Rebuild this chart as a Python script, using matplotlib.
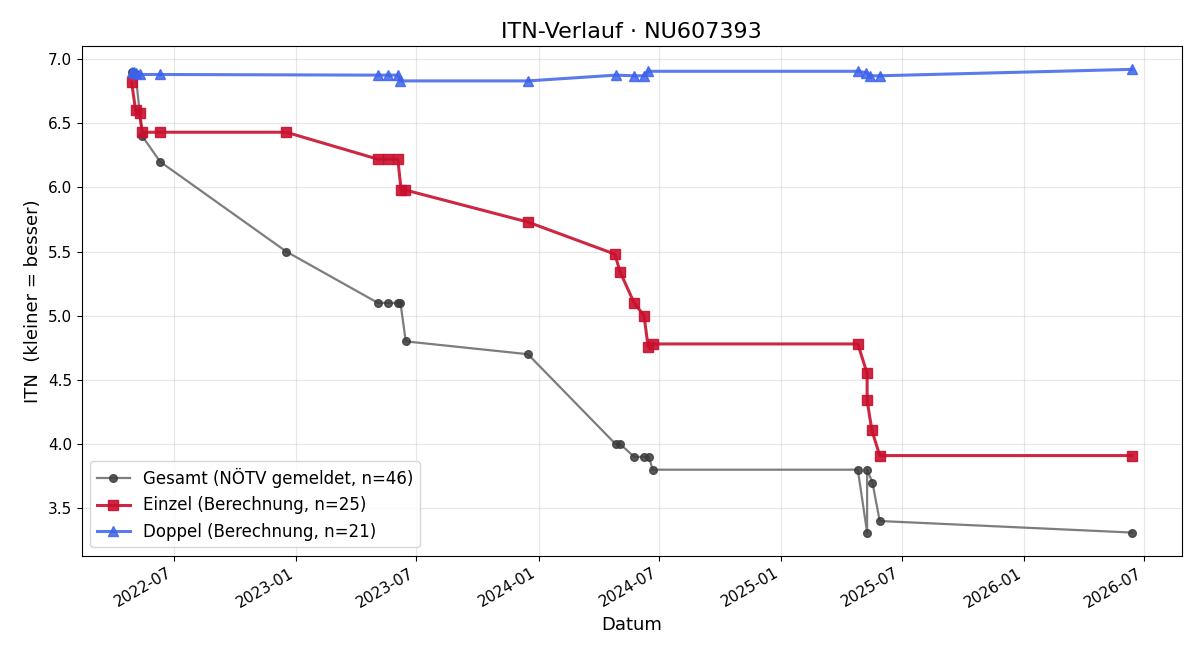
import matplotlib
matplotlib.use("Agg")
import matplotlib.pyplot as plt
import matplotlib.dates as mdates
import pandas as pd

# Gesamt (NÖTV gemeldet)
gesamt_dates = ["2022-04-28", "2022-05-01", "2022-05-04", "2022-05-14",
                "2022-06-10", "2022-12-17", "2023-05-04", "2023-05-19", "2023-06-03",
                "2023-06-07", "2023-06-15", "2023-12-16", "2024-04-26", "2024-05-03",
                "2024-05-24", "2024-06-08", "2024-06-15", "2024-06-21", "2025-04-26",
                "2025-05-10", "2025-05-10", "2025-05-18", "2025-05-29", "2026-06-13"]
gesamt_itn = [6.90, 6.89, 6.88, 6.40,
              6.20, 5.50, 5.10, 5.10, 5.10,
              5.10, 4.80, 4.70, 4.00, 4.00,
              3.90, 3.90, 3.90, 3.80, 3.80,
              3.31, 3.80, 3.70, 3.40, 3.31]

# Einzel (Berechnung)
einzel_dates = ["2022-04-28", "2022-05-04", "2022-05-10", "2022-05-14", "2022-06-10",
                "2022-12-17", "2023-05-04", "2023-05-19", "2023-06-03", "2023-06-08",
                "2023-06-14", "2023-12-16", "2024-04-25", "2024-05-03", "2024-05-24",
                "2024-06-08", "2024-06-14", "2024-06-21", "2025-04-26", "2025-05-10",
                "2025-05-10", "2025-05-17", "2025-05-29", "2026-06-13"]
einzel_itn = [6.82, 6.60, 6.58, 6.43, 6.43,
              6.43, 6.22, 6.22, 6.22, 5.98,
              5.98, 5.73, 5.48, 5.34, 5.10,
              5.00, 4.76, 4.78, 4.78, 4.55,
              4.34, 4.11, 3.91, 3.91]

# Doppel (Berechnung)
doppel_dates = ["2022-04-28", "2022-05-01", "2022-05-04", "2022-05-10", "2022-06-10",
                "2023-05-04", "2023-05-19", "2023-06-03", "2023-06-07", "2023-12-16",
                "2024-04-26", "2024-05-24", "2024-06-08", "2024-06-14", "2025-04-26",
                "2025-05-08", "2025-05-15", "2025-05-29", "2026-06-13"]
doppel_itn = [6.90, 6.90, 6.89, 6.88, 6.88,
              6.875, 6.875, 6.875, 6.83, 6.83,
              6.875, 6.87, 6.87, 6.905, 6.905,
              6.895, 6.87, 6.87, 6.92]

fig, ax = plt.subplots(figsize=(12, 6.6), dpi=100)

ax.plot(pd.to_datetime(gesamt_dates), gesamt_itn, color="#666666", marker="o",
        markersize=5.5, markerfacecolor="#3c3c3c", markeredgecolor="#3c3c3c",
        linewidth=1.6, alpha=0.85, label="Gesamt (NÖTV gemeldet, n=46)")
ax.plot(pd.to_datetime(einzel_dates), einzel_itn, color="#c8102e", marker="s",
        markersize=7, linewidth=2.2, alpha=0.9, label="Einzel (Berechnung, n=25)")
ax.plot(pd.to_datetime(doppel_dates), doppel_itn, color="#3d63eb", marker="^",
        markersize=7, linewidth=2.2, alpha=0.85, label="Doppel (Berechnung, n=21)")

ax.set_title("ITN-Verlauf · NU607393", fontsize=16)
ax.set_xlabel("Datum", fontsize=13)
ax.set_ylabel("ITN  (kleiner = besser)", fontsize=13)
ax.xaxis.set_major_locator(mdates.MonthLocator(bymonth=[1, 7]))
ax.xaxis.set_major_formatter(mdates.DateFormatter("%Y-%m"))
ax.tick_params(labelsize=11)
ax.grid(True, alpha=0.3)
ax.legend(loc="lower left", fontsize=12)
fig.autofmt_xdate()

fig.subplots_adjust(left=0.068, right=0.985, top=0.930, bottom=0.158)
plt.savefig("out.png")
